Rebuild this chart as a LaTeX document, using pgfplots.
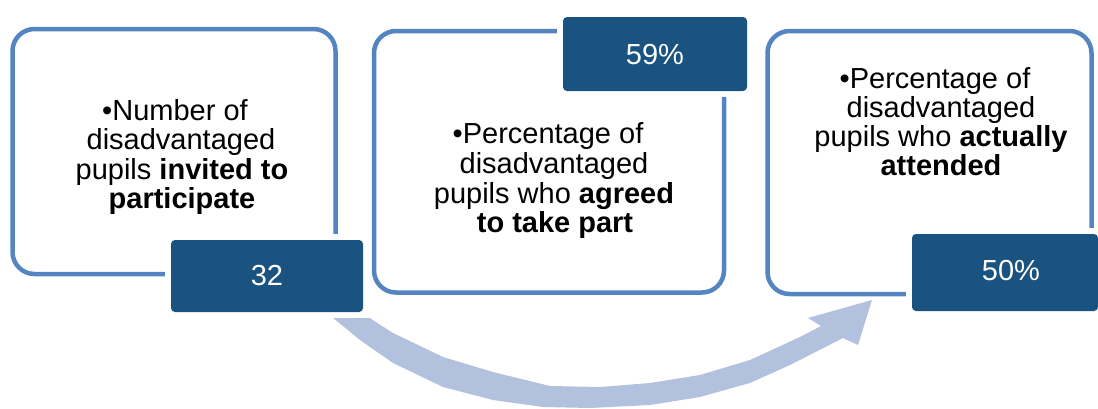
\documentclass[border=0pt]{standalone}
\usepackage{fontspec}
\setmainfont{Liberation Sans}
\usepackage{pgfplots}
\pgfplotsset{compat=1.18}
\definecolor{bordc}{RGB}{84,133,192}
\definecolor{darkc}{RGB}{26,83,128}
\definecolor{arrowc}{RGB}{178,194,222}
\begin{document}
\begin{tikzpicture}
\begin{axis}[
  width=549pt, height=204pt, scale only axis,
  xmin=0, xmax=1098, ymin=0, ymax=408, y dir=reverse,
  hide axis, clip=false,
]
\path (0,0) rectangle (1098,408);
% curved arrow
\addplot[fill=arrowc, draw=none, mark=none] coordinates {
 (318,303) (332,317) (360,340) (393,363) (443,387) (493,400) (543,407)
 (590,408) (650,405) (700,397) (750,383) (790,365) (843,338)
 (858,345) (872,300) (808,318) (821,326)
 (800,337) (750,360) (700,375) (650,383) (600,387) (550,386)
 (493,372) (443,357) (393,333) (365,315) (350,303)
};
% outlined boxes
\draw[bordc, line width=2.25pt, rounded corners=11pt] (12.5,29) rectangle (335.5,274);
\draw[bordc, line width=2.25pt, rounded corners=11pt] (374,31) rectangle (724,292.5);
\draw[bordc, line width=2.25pt, rounded corners=11pt] (767.5,31) rectangle (1091.5,294);
% white margins
\fill[white] (165,234) rectangle (369,318);
\fill[white] (557,11) rectangle (753,97);
\fill[white] (906,228) rectangle (1098,317);
% dark value boxes
\fill[darkc, rounded corners=2pt] (171,240) rectangle (363,312);
\fill[darkc, rounded corners=2pt] (563,17) rectangle (747,91);
\fill[darkc, rounded corners=2pt] (912,234) rectangle (1098,311);
\tikzset{t/.style={anchor=base, inner sep=0pt, font=\fontsize{14.5}{15}\selectfont}}
\node[t, text=white] at (267,285) {32};
\node[t, text=white] at (655,64) {59\%};
\node[t, text=white] at (1011,280) {50\%};
% box 1 text
\node[t] at (175,120) {•Number of};
\node[t] at (181,149.5) {disadvantaged};
\node[t] at (182,179) {pupils \textbf{invited to}};
\node[t] at (182,208.5) {\textbf{participate}};
% box 2 text
\node[t] at (548,143) {•Percentage of};
\node[t] at (554,173) {disadvantaged};
\node[t] at (554,203) {pupils who \textbf{agreed}};
\node[t] at (555,232) {\textbf{to take part}};
% box 3 text
\node[t] at (935,88) {•Percentage of};
\node[t] at (941,117) {disadvantaged};
\node[t] at (941,146.5) {pupils who \textbf{actually}};
\node[t] at (941,175.5) {\textbf{attended}};
\end{axis}
\end{tikzpicture}
\end{document}
